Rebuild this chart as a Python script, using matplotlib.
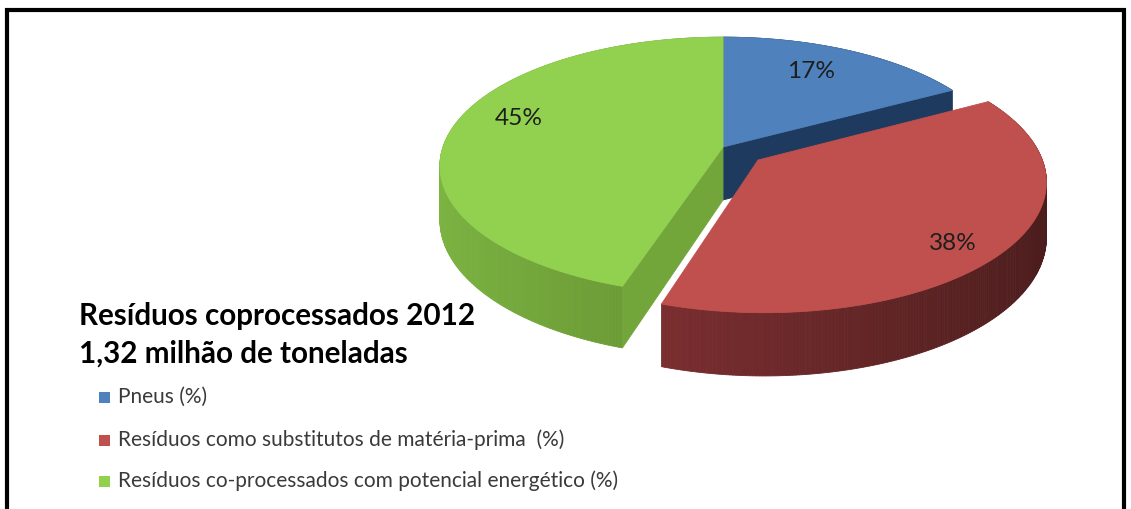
import numpy as np
import matplotlib.pyplot as plt
from matplotlib.patches import Polygon, Rectangle
from matplotlib.colors import to_rgb

# data
categories = ["Pneus (%)",
              "Resíduos como substitutos de matéria-prima  (%)",
              "Resíduos co-processados com potencial energético (%)"]
shares = [17, 38, 45]
labels = ["17%", "38%", "45%"]
title_lines = ["Resíduos coprocessados 2012", "1,32 milhão de toneladas"]

# styling
face_colors = ["#4F81BD", "#C0504D", "#92D050"]
wall_dark = ["#203A5C", "#4A1C1C", "#4E6E1F"]
wall_light = ["#203A5C", "#93373A", "#7CB442"]
radial_colors = ["#1F3A5F", "#5A2222", "#72A63B"]
explode = [0.0, 0.16, 0.0]
label_radius = [0.74, 0.85, 0.79]
label_turn = [-3, 4, 8]

W, H = 1131, 509
fig = plt.figure(figsize=(W / 100, H / 100), dpi=100)
ax = fig.add_axes([0, 0, 1, 1])
ax.set_xlim(0, W)
ax.set_ylim(H, 0)
ax.axis("off")

plt.rcParams["font.family"] = ["Lato", "DejaVu Sans"]

# frame around the chart area
ax.plot([7, 7, 1124, 1124], [H, 10, 10, H], color="black", lw=3,
        solid_joinstyle="miter", clip_on=False)

# tilted pie with a bit of perspective
cx, cy = 723, 147
rx, ry = 280, 126
k = 0.147
depth = 53


def project(u, v, z=0.0):
    f = 1.0 / (1.0 + k * v)
    return cx + rx * u * f, cy - ry * v * f + depth * z * f


def mix(c1, c2, s):
    a, b = np.array(to_rgb(c1)), np.array(to_rgb(c2))
    return tuple(a + (b - a) * s)


bounds = np.cumsum([0] + shares) / sum(shares) * 360.0
order = [0, 2, 1]  # back to front

for i in order:
    t1, t2 = bounds[i], bounds[i + 1]
    tm = np.radians((t1 + t2) / 2)
    ou, ov = explode[i] * np.sin(tm), explode[i] * np.cos(tm)
    ts = np.radians(np.linspace(t1, t2, 240))
    u = ou + np.sin(ts)
    v = ov + np.cos(ts)
    xt, yt = project(u, v, 0)
    xb, yb = project(u, v, 1)

    # outer curved wall, shaded strip by strip
    for j in range(len(ts) - 1):
        s = (1 - np.sin((ts[j] + ts[j + 1]) / 2)) / 2
        c = mix(wall_dark[i], wall_light[i], s)
        quad = [(xt[j], yt[j]), (xt[j + 1], yt[j + 1]),
                (xb[j + 1], yb[j + 1]), (xb[j], yb[j])]
        ax.add_patch(Polygon(quad, closed=True, fc=c, ec=c, lw=0.6))

    # radial walls that face the viewer
    x0t, y0t = project(ou, ov, 0)
    x0b, y0b = project(ou, ov, 1)
    for t, normal in ((t1, t1 - 90), (t2, t2 + 90)):
        if np.cos(np.radians(normal)) < -0.05:
            tr = np.radians(t)
            ue, ve = ou + np.sin(tr), ov + np.cos(tr)
            xe, ye = project(ue, ve, 0)
            xeb, yeb = project(ue, ve, 1)
            ax.add_patch(Polygon([(x0t, y0t), (xe, ye), (xeb, yeb), (x0b, y0b)],
                                 closed=True, fc=radial_colors[i],
                                 ec=radial_colors[i], lw=0.6))

    # top face
    pts = [(x0t, y0t)] + list(zip(xt, yt))
    ax.add_patch(Polygon(pts, closed=True, fc=face_colors[i],
                         ec=face_colors[i], lw=0.6))

fig.canvas.draw()
renderer = fig.canvas.get_renderer()


def fit_width(t, width):
    w = t.get_window_extent(renderer).width
    t.set_fontsize(t.get_fontsize() * width / w)
    return t.get_fontsize()


# value labels
label_texts = []
for i in range(len(shares)):
    t1, t2 = bounds[i], bounds[i + 1]
    tm = np.radians((t1 + t2) / 2)
    tl = np.radians((t1 + t2) / 2 + label_turn[i])
    ou, ov = explode[i] * np.sin(tm), explode[i] * np.cos(tm)
    lx, ly = project(ou + label_radius[i] * np.sin(tl),
                     ov + label_radius[i] * np.cos(tl))
    label_texts.append(ax.text(lx, ly, labels[i], ha="center", va="center",
                               fontsize=16, color="#1E1E1E"))
size = fit_width(label_texts[0], 48)
for t in label_texts:
    t.set_fontsize(size)

# title block
t1 = ax.text(79, 325, title_lines[0], ha="left", va="baseline",
             fontsize=18, fontweight="bold", color="black")
size = fit_width(t1, 397)
ax.text(79, 363, title_lines[1], ha="left", va="baseline",
        fontsize=size, fontweight="bold", color="black")

# legend
rows = [397, 440, 481]
leg_texts = []
for i, name in enumerate(categories):
    ax.add_patch(Rectangle((98.5, rows[i] - 5.5), 11, 11, fc=face_colors[i], ec="none"))
    leg_texts.append(ax.text(118, rows[i], name, ha="left", va="center",
                             fontsize=12, color="#3A3A3A"))
size = fit_width(leg_texts[2], 500)
for t in leg_texts:
    t.set_fontsize(size)

fig.savefig("out.png", dpi=100, facecolor="white")
